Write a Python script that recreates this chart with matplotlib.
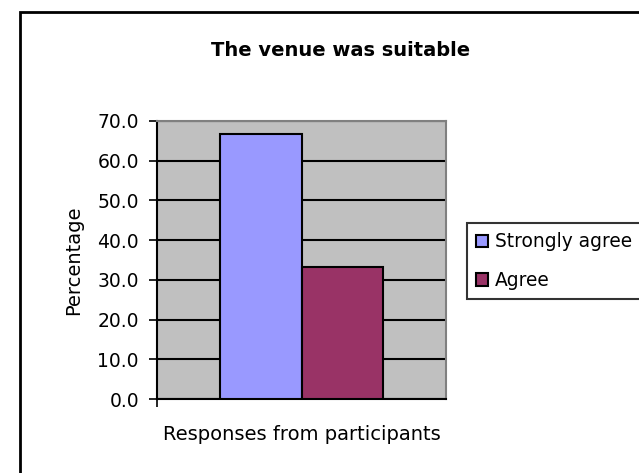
import matplotlib.pyplot as plt
from matplotlib.patches import Rectangle

title = "The venue was suitable"
series_names = ["Strongly agree", "Agree"]
values = [66.7, 33.3]
colors = ["#9999FF", "#993366"]
yticks = [0, 10, 20, 30, 40, 50, 60, 70]

W, H = 639, 473
fig = plt.figure(figsize=(W / 100, H / 100), dpi=100)
plt.rcParams['font.family'] = ['DejaVu Sans']

# outer chart border (runs off the right and bottom edge)
fig.patches.append(Rectangle((20 / W, -0.1), 1.2, 1 - 12 / H + 0.1,
                             transform=fig.transFigure, fill=False,
                             edgecolor="black", lw=2, clip_on=False))

ax = fig.add_axes([157 / W, 74 / H, 289 / W, 278 / H])
ax.set_facecolor("#C0C0C0")

group_w = 0.564
bar_w = group_w / len(values)
for i, (name, v, c) in enumerate(zip(series_names, values, colors)):
    x = -group_w / 2 + bar_w * (i + 0.5)
    ax.bar(x, v, width=bar_w, color=c, edgecolor="black", lw=1.5,
           label=name, zorder=3)

ax.set_xlim(-0.5, 0.5)
ax.set_ylim(0, 70)
ax.set_yticks(yticks)
ax.set_yticklabels([f"{t:.1f}" for t in yticks], fontsize=13.5)
ax.set_xticks([-0.5])
ax.set_xticklabels([""])
ax.tick_params(axis="both", direction="out", length=6, width=1.2,
               color="black", pad=7)
ax.yaxis.grid(True, color="black", lw=1.5, zorder=1)
ax.set_axisbelow(True)

for s in ["left", "bottom"]:
    ax.spines[s].set_color("black")
    ax.spines[s].set_linewidth(1.5)
for s in ["top", "right"]:
    ax.spines[s].set_color("#808080")
    ax.spines[s].set_linewidth(1.5)

ax.set_ylabel("Percentage", fontsize=14, labelpad=10)
ax.set_xlabel("Responses from participants", fontsize=14, labelpad=6)

fig.text(341 / W, 1 - 50 / H, title, ha="center", va="center",
         fontsize=14, fontweight="bold")

leg = ax.legend(loc="upper left", bbox_to_anchor=(467 / W, 1 - 223 / H),
                bbox_transform=fig.transFigure, fontsize=13.4, frameon=True,
                fancybox=False, edgecolor="black", handlelength=0.65,
                handleheight=0.65, handletextpad=0.35, borderpad=0.5,
                labelspacing=1.05, borderaxespad=0)
leg.get_frame().set_linewidth(1.5)

fig.savefig("out.png", dpi=100)
